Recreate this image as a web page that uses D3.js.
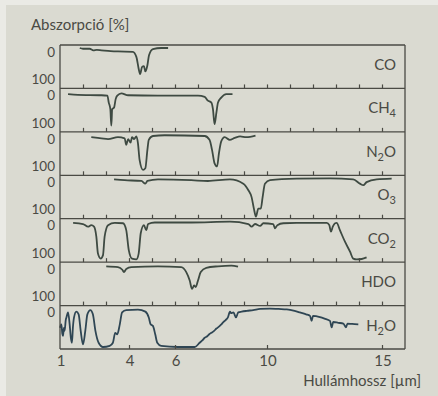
<!DOCTYPE html>
<html lang="hu">
<head>
<meta charset="utf-8">
<title>Abszorpció</title>
<script src="https://d3js.org/d3.v7.min.js"></script>
<style>
  body { margin: 0; background: #dadad1; }
  svg { display: block; }
  text { font-family: Lato, "Open Sans", sans-serif; fill: #4a4a44; }
</style>
</head>
<body>
<div id="chart"></div>
<script>
// gases, top to bottom
var gases = ["CO", "CH4", "N2O", "O3", "CO2", "HDO", "H2O"];

// [wavelength (um), absorption (%)]
var coData = [[1.86,0],[2.0,2],[2.29,2],[2.45,6],[2.6,5],[2.8,6],[3.2,8],[3.52,9],[4.17,10],[4.32,23],[4.42,54],[4.48,68],[4.57,49],[4.65,47],[4.71,61],[4.8,45],[4.87,19],[5.04,3],[5.4,0],[5.7,0]];
var ch4Data = [[1.35,7],[1.78,9],[2.8,10],[3.06,11],[3.12,29],[3.19,46],[3.23,89],[3.27,46],[3.35,42],[3.42,20],[3.49,11],[3.67,5],[3.96,10],[5.26,11],[7.0,11],[7.29,14],[7.43,24],[7.58,29],[7.65,46],[7.72,85],[7.8,55],[7.87,29],[8.01,16],[8.23,7],[8.5,7]];
var n2oData = [[2.36,6],[2.8,9],[3.09,11],[3.52,6],[3.81,9],[3.88,26],[3.96,11],[4.07,20],[4.13,6],[4.22,11],[4.32,4],[4.39,22],[4.46,65],[4.61,91],[4.71,87],[4.8,39],[4.86,13],[5.04,3],[5.55,1],[7.29,3],[7.5,13],[7.61,39],[7.72,74],[7.83,82],[7.91,48],[8.01,17],[8.16,6],[8.38,13],[8.6,8],[8.83,4],[9.1,6],[9.5,2]];
var o3Data = [[3.35,3],[3.81,5],[4.54,7],[4.71,14],[4.8,7],[5.26,3],[6.71,5],[7.43,7],[8.39,3],[8.97,14],[9.19,31],[9.33,49],[9.43,79],[9.52,100],[9.62,79],[9.73,79],[9.81,49],[9.91,14],[10.13,5],[11.29,1],[12.74,0],[13.75,3],[14.04,14],[14.19,18],[14.33,10],[14.77,3],[15.42,1]];
var co2Data = [[1.57,3],[2.0,6],[2.22,13],[2.36,9],[2.48,13],[2.58,39],[2.65,83],[2.77,96],[2.87,87],[2.94,39],[3.09,9],[3.38,3],[3.74,4],[3.88,22],[3.99,74],[4.13,96],[4.32,98],[4.42,83],[4.51,30],[4.65,9],[4.75,22],[4.83,6],[5.12,2],[6.71,2],[8.39,0],[9.19,6],[9.33,13],[9.48,6],[9.7,11],[9.84,4],[10.27,6],[10.35,17],[10.45,9],[10.71,4],[11.29,3],[12.6,3],[12.71,9],[12.78,26],[12.86,13],[12.96,4],[13.03,3],[13.17,22],[13.39,52],[13.61,78],[13.75,96],[13.9,98],[14.12,97],[14.33,93]];
var hdoData = [[3.01,3],[3.52,5],[3.71,12],[3.78,18],[3.88,10],[4.1,5],[5.26,3],[6.27,5],[6.49,18],[6.64,40],[6.74,62],[6.83,53],[6.9,57],[7.0,40],[7.12,18],[7.36,7],[7.87,3],[8.45,1],[8.74,4]];
var h2oData = [[1.0,50],[1.06,41],[1.1,65],[1.13,71],[1.17,50],[1.2,58],[1.25,30],[1.28,23],[1.35,10],[1.42,41],[1.47,75],[1.52,89],[1.56,50],[1.61,23],[1.71,8],[1.81,15],[1.9,58],[2.0,93],[2.1,58],[2.19,15],[2.32,4],[2.43,15],[2.54,58],[2.68,89],[2.87,100],[3.16,97],[3.3,89],[3.4,63],[3.49,67],[3.6,41],[3.7,10],[3.88,4],[4.39,3],[4.71,8],[4.86,23],[4.94,41],[5.04,45],[5.14,67],[5.23,89],[5.4,97],[6.13,100],[6.86,100],[7.07,89],[7.2,82],[7.29,76],[7.4,72],[7.5,66],[7.58,63],[7.7,58],[7.8,52],[7.87,49],[8.0,42],[8.09,36],[8.2,30],[8.3,23],[8.39,8],[8.45,12],[8.54,10],[8.65,23],[8.75,10],[8.9,8],[9.12,6],[9.4,4],[9.7,1],[10.13,0],[10.5,1],[10.86,2],[11.2,6],[11.43,10],[11.7,15],[11.87,19],[11.94,32],[12.0,19],[12.3,22],[12.5,26],[12.74,32],[12.81,49],[12.88,35],[13.1,37],[13.32,39],[13.43,49],[13.5,39],[13.7,40],[13.97,41]];
var series = [coData, ch4Data, n2oData, o3Data, co2Data, hdoData, h2oData];

var xTicks = [2,3,4,5,6,7,8,9,10,11,12,13,14,15];
var xLabels = [1, 4, 6, 10, 15];
var yLabels = [0, 100];

var width = 438, height = 396;
var top0 = 45, bottom0 = 349;
var ph = (bottom0 - top0) / gases.length;

var svg = d3.select("#chart").append("svg")
    .attr("width", width)
    .attr("height", height);

// paper + lighter page edge
svg.append("rect").attr("width", width).attr("height", height).attr("fill", "#dadad1");
svg.append("rect").attr("width", width).attr("height", 5).attr("fill", "#eaeae5");
svg.append("rect").attr("width", 6).attr("height", height).attr("fill", "#eaeae5");

var x = d3.scaleLinear().domain([1, 16]).range([60, 405]);

var line = d3.line().curve(d3.curveMonotoneX);

var panels = svg.selectAll("g.panel")
    .data(gases)
    .enter().append("g")
    .attr("class", "panel")
    .attr("transform", function(d, i){ return "translate(0," + (top0 + i * ph) + ")"; });

panels.each(function(g, i){
    var p = d3.select(this);
    var y = d3.scaleLinear().domain([0, 100]).range([3, ph - 2]);

    // curve
    p.append("path")
        .attr("d", line.x(function(d){ return x(d[0]); }).y(function(d){ return y(d[1]); })(series[i]))
        .attr("fill", "none")
        .attr("stroke", g == "H2O" ? "#2f4654" : "#3e4a42")
        .attr("stroke-width", 1.8)
        .attr("stroke-linejoin", "round");

    // inward ticks on the bottom edge
    var ax = d3.axisBottom(x)
        .tickValues(g == "H2O" ? [4, 6, 10, 15] : xTicks)
        .tickSize(-4)
        .tickFormat("");
    var ag = p.append("g").attr("transform", "translate(0," + ph + ")").call(ax);
    ag.select(".domain").remove();
    ag.selectAll("line").attr("stroke", "#4a4a44").attr("stroke-width", 1.2);

    // 0 / 100 labels
    p.append("text").attr("x", 55).attr("y", 7).attr("dy", "0.35em")
        .attr("text-anchor", "end").style("font-size", "13.5px").text(yLabels[0]);
    if (i < gases.length - 1) {
        p.append("text").attr("x", 55).attr("y", ph - 9).attr("dy", "0.35em")
            .attr("text-anchor", "end").style("font-size", "13.5px").text(yLabels[1]);
    }

    // gas name with subscript
    var t = p.append("text").attr("x", 396).attr("y", 25)
        .attr("text-anchor", "end").style("font-size", "15px");
    var m = g.match(/^([A-Z]+)(\d?)(.*)$/);
    t.append("tspan").text(m[1]);
    if (m[2]) {
        t.append("tspan").attr("dy", 4).style("font-size", "11px").text(m[2]);
        if (m[3]) t.append("tspan").attr("dy", -4).text(m[3]);
    }
});

// frame
var frame = svg.append("g").attr("stroke", "#4a4a44").attr("stroke-width", 1.3).attr("fill", "none");
frame.append("line").attr("x1", x(1)).attr("x2", x(1)).attr("y1", top0).attr("y2", bottom0);
frame.append("line").attr("x1", x(16)).attr("x2", x(16)).attr("y1", top0).attr("y2", bottom0);
frame.selectAll("line.sep")
    .data(d3.range(gases.length + 1))
    .enter().append("line")
    .attr("class", "sep")
    .attr("x1", x(1)).attr("x2", x(16))
    .attr("y1", function(i){ return top0 + i * ph; })
    .attr("y2", function(i){ return top0 + i * ph; });

// x tick labels
svg.selectAll("text.xl")
    .data(xLabels)
    .enter().append("text")
    .attr("class", "xl")
    .attr("x", function(d){ return x(d) + 1; })
    .attr("y", 366)
    .attr("text-anchor", "middle")
    .style("font-size", "15px")
    .text(function(d){ return d; });

svg.append("text").attr("x", 31).attr("y", 30).style("font-size", "15px").text("Abszorpció [%]");
svg.append("text").attr("x", 421).attr("y", 386).attr("text-anchor", "end").style("font-size", "15px").text("Hullámhossz [µm]");
</script>
</body>
</html>
